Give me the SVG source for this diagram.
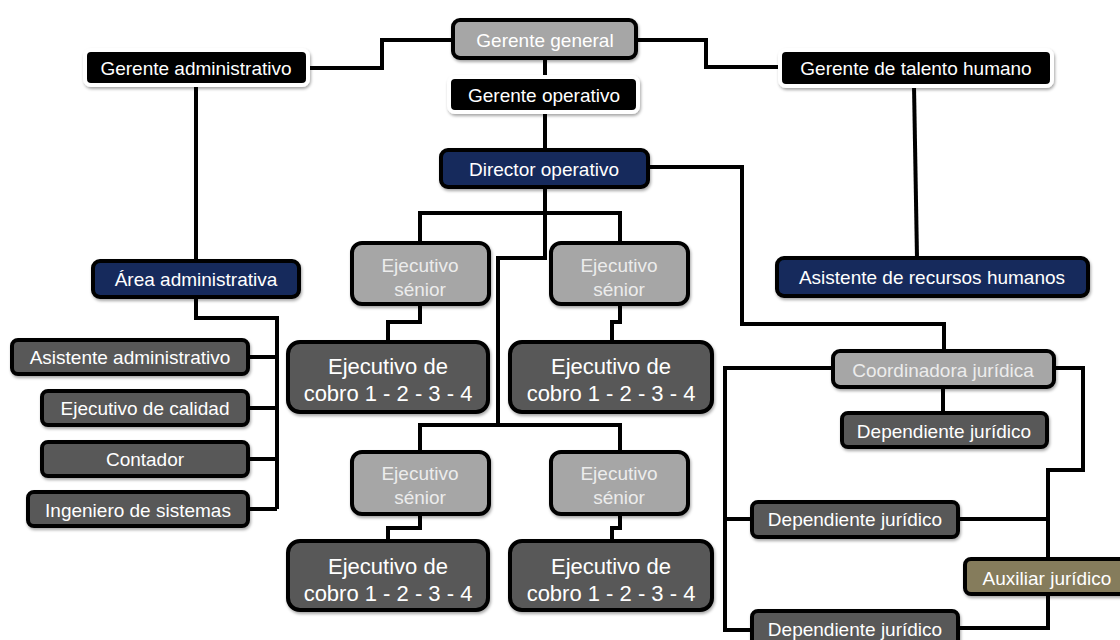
<svg xmlns="http://www.w3.org/2000/svg" width="1120" height="640" viewBox="0 0 1120 640">
<defs>
<filter id="sh" x="-10%" y="-20%" width="120%" height="150%">
<feDropShadow dx="1" dy="2" stdDeviation="1.5" flood-color="#000" flood-opacity="0.35"/>
</filter>
</defs>
<style>
text{font-family:"Liberation Sans",Arial,sans-serif;font-size:19px;text-anchor:middle;dominant-baseline:central;fill:#fff}
.big{font-size:22px}
.lt{fill:#ececec}
rect{stroke:#000;stroke-width:4;filter:url(#sh)}
.blk{fill:#000;stroke:#fff;stroke-width:4}
.gry{fill:#a6a6a6}
.nav{fill:#132a5c}
.dk{fill:#595959}
.olv{fill:#857b5c}
#connectors path{fill:none;stroke:#000;stroke-width:4;stroke-linejoin:miter}
</style>
<rect width="1120" height="640" fill="#fff" style="stroke:none;filter:none"/>
<g id="connectors">
<path d="M308,68 H382 V40 H453"/>
<path d="M636,40 H706 V67 H780"/>
<path d="M545,58 V77"/>
<path d="M545,112 V150"/>
<path d="M196,85 V261"/>
<path d="M914,86 L917,258"/>
<path d="M648,167 H742 V324 H944 V351"/>
<path d="M545,187 V258 H498 V425"/>
<path d="M420,243 V213 H620 V243"/>
<path d="M420,304 V322 H388 V342"/>
<path d="M620,304 V322 H612 V342"/>
<path d="M420,452 V425 H620 V452"/>
<path d="M420,514 V528 H388 V541"/>
<path d="M620,514 V528 H612 V541"/>
<path d="M196,297 V318 H277 V509"/>
<path d="M248,357 H277 M248,408 H277 M248,459 H277 M248,509 H277"/>
<path d="M833,368 H725 V630 H752 M725,519 H752"/>
<path d="M943,387 V413"/>
<path d="M1054,368 H1083 V470 H1048 V628 H958 M958,519 H1048"/>
</g>
<g id="gerente-general"><rect class="gry" x="453" y="20" width="183" height="38" rx="7"/><text x="545" y="40">Gerente general</text></g>
<g id="gerente-administrativo"><rect class="blk" x="85" y="50" width="223" height="35" rx="6"/><text x="196" y="68">Gerente administrativo</text></g>
<g id="gerente-operativo"><rect class="blk" x="449" y="77" width="189" height="35" rx="6"/><text x="544" y="95">Gerente operativo</text></g>
<g id="gerente-talento"><rect class="blk" x="780" y="50" width="272" height="36" rx="6"/><text x="916" y="68">Gerente de talento humano</text></g>
<g id="director-operativo"><rect class="nav" x="441" y="150" width="207" height="37" rx="7"/><text x="544" y="169">Director operativo</text></g>
<g id="area-administrativa"><rect class="nav" x="93" y="261" width="206" height="36" rx="7"/><text x="196" y="279">Área administrativa</text></g>
<g id="asistente-rrhh"><rect class="nav" x="777" y="258" width="311" height="38" rx="7"/><text x="932" y="277">Asistente de recursos humanos</text></g>
<g id="ejecutivo-senior-1"><rect class="gry" x="352" y="243" width="137" height="61" rx="10"/><text class="lt" x="420" y="265">Ejecutivo</text><text class="lt" x="420" y="289">sénior</text></g>
<g id="ejecutivo-senior-2"><rect class="gry" x="551" y="243" width="137" height="61" rx="10"/><text class="lt" x="619" y="265">Ejecutivo</text><text class="lt" x="619" y="289">sénior</text></g>
<g id="ejecutivo-cobro-1"><rect class="dk" x="288" y="342" width="200" height="70" rx="12"/><text class="big" x="388" y="366">Ejecutivo de</text><text class="big" x="388" y="393">cobro 1 - 2 - 3 - 4</text></g>
<g id="ejecutivo-cobro-2"><rect class="dk" x="510" y="342" width="202" height="70" rx="12"/><text class="big" x="611" y="366">Ejecutivo de</text><text class="big" x="611" y="393">cobro 1 - 2 - 3 - 4</text></g>
<g id="ejecutivo-senior-3"><rect class="gry" x="352" y="452" width="137" height="62" rx="10"/><text class="lt" x="420" y="473">Ejecutivo</text><text class="lt" x="420" y="497">sénior</text></g>
<g id="ejecutivo-senior-4"><rect class="gry" x="551" y="452" width="137" height="62" rx="10"/><text class="lt" x="619" y="473">Ejecutivo</text><text class="lt" x="619" y="497">sénior</text></g>
<g id="ejecutivo-cobro-3"><rect class="dk" x="288" y="541" width="200" height="69" rx="12"/><text class="big" x="388" y="566">Ejecutivo de</text><text class="big" x="388" y="593">cobro 1 - 2 - 3 - 4</text></g>
<g id="ejecutivo-cobro-4"><rect class="dk" x="510" y="541" width="202" height="69" rx="12"/><text class="big" x="611" y="566">Ejecutivo de</text><text class="big" x="611" y="593">cobro 1 - 2 - 3 - 4</text></g>
<g id="asistente-administrativo"><rect class="dk" x="12" y="340" width="236" height="34" rx="6"/><text x="130" y="357">Asistente administrativo</text></g>
<g id="ejecutivo-calidad"><rect class="dk" x="42" y="391" width="206" height="34" rx="6"/><text x="145" y="408">Ejecutivo de calidad</text></g>
<g id="contador"><rect class="dk" x="42" y="442" width="206" height="34" rx="6"/><text x="145" y="459">Contador</text></g>
<g id="ingeniero-sistemas"><rect class="dk" x="28" y="492" width="220" height="34" rx="6"/><text x="138" y="510">Ingeniero de sistemas</text></g>
<g id="coordinadora-juridica"><rect class="gry" x="833" y="351" width="221" height="36" rx="7"/><text class="lt" x="943" y="370">Coordinadora jurídica</text></g>
<g id="dependiente-juridico-1"><rect class="dk" x="842" y="413" width="205" height="34" rx="6"/><text x="944" y="431">Dependiente jurídico</text></g>
<g id="dependiente-juridico-2"><rect class="dk" x="752" y="502" width="206" height="35" rx="6"/><text x="855" y="519">Dependiente jurídico</text></g>
<g id="auxiliar-juridico"><rect class="olv" x="965" y="559" width="162" height="35" rx="6"/><text x="1047" y="578">Auxiliar jurídico</text></g>
<g id="dependiente-juridico-3"><rect class="dk" x="752" y="611" width="206" height="40" rx="6"/><text x="855" y="629">Dependiente jurídico</text></g>
</svg>
